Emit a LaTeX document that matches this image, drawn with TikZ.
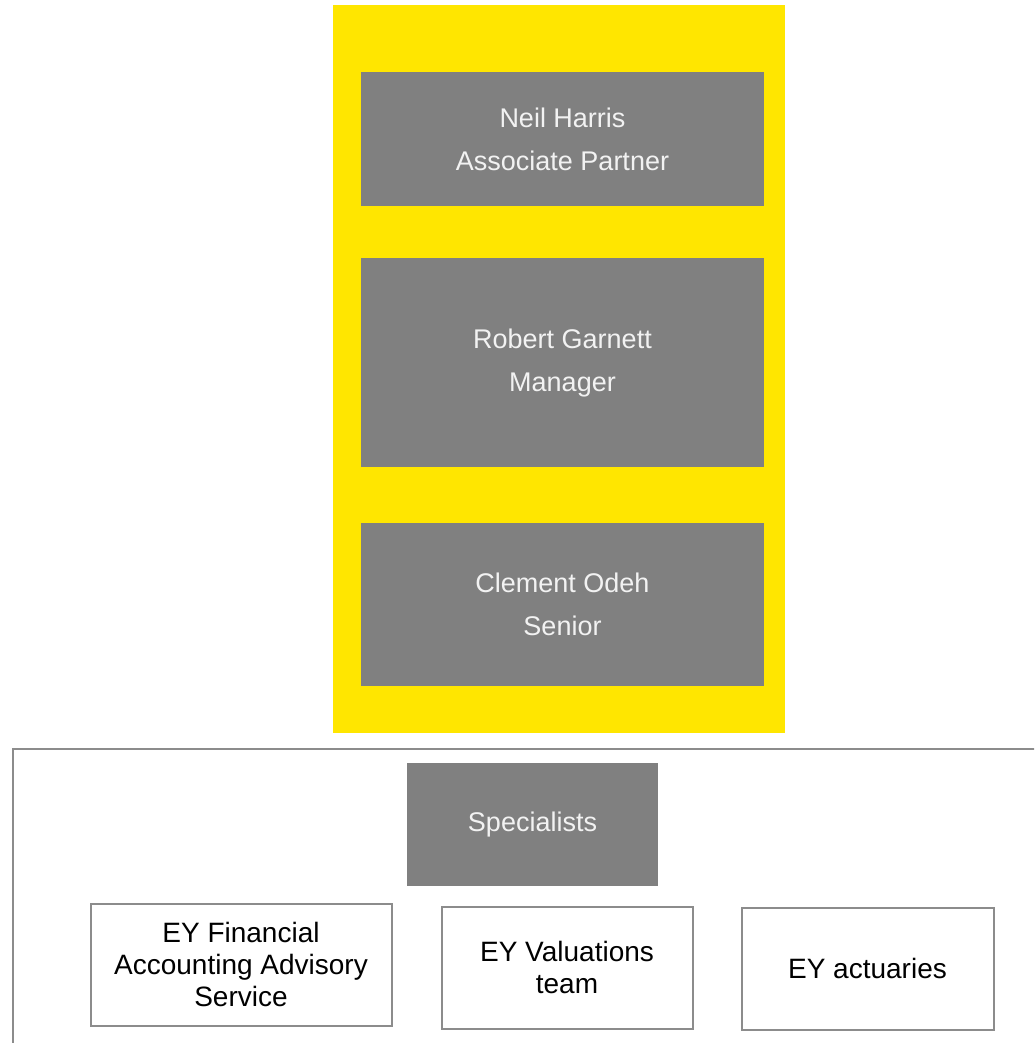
\documentclass[tikz,border=0pt]{standalone}
\usepackage{fontspec}
\setmainfont{Liberation Sans}
\usepackage{xcolor}
\usepackage{tikz}
\usetikzlibrary{positioning}
\definecolor{eyyellow}{HTML}{FFE600}
\definecolor{eygrey}{HTML}{808080}
\definecolor{eyline}{HTML}{8C8C8C}

\begin{document}
\begin{tikzpicture}[x=1pt,y=-1pt,
  person/.style={fill=eygrey,text=white!95!black,minimum width=403pt,align=center,
    font=\fontsize{27}{43}\selectfont,inner sep=0pt},
  team/.style={draw=eyline,line width=2pt,minimum height=122pt,align=center,
    font=\fontsize{28}{32}\selectfont,inner sep=0pt}]
  \useasboundingbox (0,0) rectangle (1034,1043);
  \clip (0,0) rectangle (1034,1043);
  \fill[eyyellow] (333,5) rectangle (785,733);
  \draw[eyline,line width=2pt] (13,1060) -- (13,749) -- (1050,749);

  \node[person,minimum height=134pt] (harris) at (562.5,139) {Neil Harris\\Associate Partner};
  \node[person,minimum height=209pt] [below=52pt of harris] (garnett) {Robert Garnett\\Manager};
  \node[person,minimum height=163pt] [below=55pt of garnett] (odeh) {Clement Odeh\\Senior};

  \node[person,minimum width=251pt,minimum height=123pt] (spec) at (532.5,824.5) {Specialists};
  \node[team,minimum width=301pt] (faas) at (241,964.5) {EY Financial\\Accounting Advisory\\Service};
  \node[team,minimum width=251pt] (valuation) at (567,967.5) {EY Valuations\\team};
  \node[team,minimum width=252pt] (actuary) at (867.5,968.5) {EY actuaries};
\end{tikzpicture}
\end{document}
